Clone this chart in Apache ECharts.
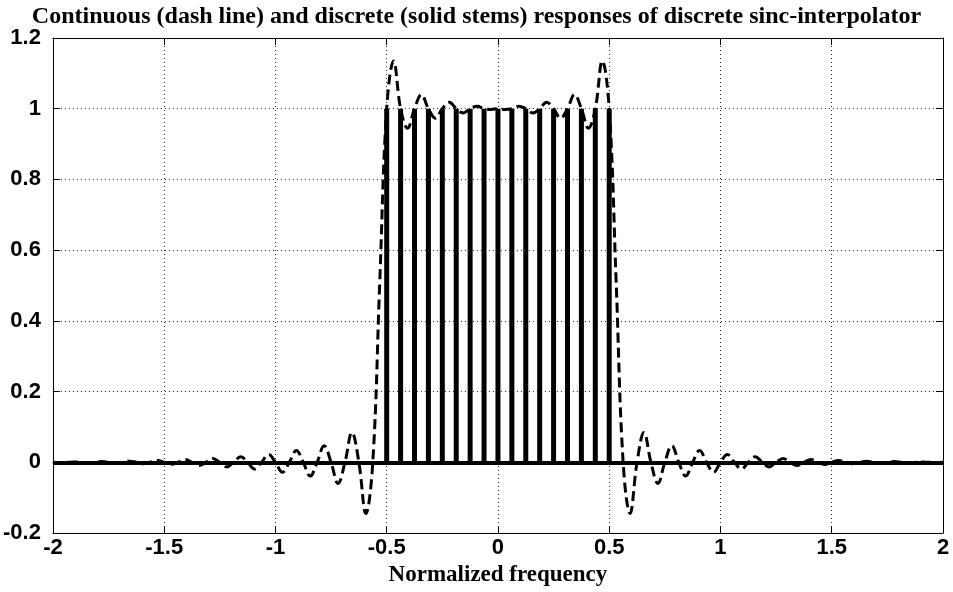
<!DOCTYPE html>
<html>
<head>
<meta charset="utf-8">
<script src="https://cdn.jsdelivr.net/npm/echarts@6/dist/echarts.min.js"></script>
<style>
html,body{margin:0;padding:0;background:#fff;}
#chart{width:953px;height:592px;}
</style>
</head>
<body>
<div id="chart"></div>
<script>
// Continuous response (dashed line), sampled every 1/32
const curveFreq = [
 -2, -1.96875, -1.9375, -1.90625, -1.875, -1.84375, -1.8125, -1.78125,
 -1.75, -1.71875, -1.6875, -1.65625, -1.625, -1.59375, -1.5625, -1.53125,
 -1.5, -1.46875, -1.4375, -1.40625, -1.375, -1.34375, -1.3125, -1.28125,
 -1.25, -1.21875, -1.1875, -1.15625, -1.125, -1.09375, -1.0625, -1.03125,
 -1, -0.96875, -0.9375, -0.90625, -0.875, -0.84375, -0.8125, -0.78125,
 -0.75, -0.71875, -0.6875, -0.65625, -0.625, -0.59375, -0.5625, -0.53125,
 -0.5, -0.46875, -0.4375, -0.40625, -0.375, -0.34375, -0.3125, -0.28125,
 -0.25, -0.21875, -0.1875, -0.15625, -0.125, -0.09375, -0.0625, -0.03125,
 0,
 0.03125, 0.0625, 0.09375, 0.125, 0.15625, 0.1875, 0.21875, 0.25,
 0.28125, 0.3125, 0.34375, 0.375, 0.40625, 0.4375, 0.46875, 0.5,
 0.53125, 0.5625, 0.59375, 0.625, 0.65625, 0.6875, 0.71875, 0.75,
 0.78125, 0.8125, 0.84375, 0.875, 0.90625, 0.9375, 0.96875, 1,
 1.03125, 1.0625, 1.09375, 1.125, 1.15625, 1.1875, 1.21875, 1.25,
 1.28125, 1.3125, 1.34375, 1.375, 1.40625, 1.4375, 1.46875, 1.5,
 1.53125, 1.5625, 1.59375, 1.625, 1.65625, 1.6875, 1.71875, 1.75,
 1.78125, 1.8125, 1.84375, 1.875, 1.90625, 1.9375, 1.96875, 2
];
const curveResp = [
 0, -0.001, 0, 0.001, 0, -0.002, 0, 0.002,
 0, -0.003, 0, 0.003, 0, -0.004, 0, 0.005,
 0, -0.006, 0, 0.008, 0, -0.009, 0, 0.011,
 0, -0.013, 0, 0.016, 0, -0.019, 0, 0.022,
 0, -0.028, 0, 0.033, 0, -0.039, 0, 0.047,
 0, -0.060, 0, 0.084, 0, -0.145, 0, 0.509,
 1, 1.135, 1, 0.945, 1, 1.040, 1, 0.973,
 1, 1.018, 1, 0.988, 1, 1.007, 1, 0.998,
 1,
 0.998, 1, 1.007, 1, 0.988, 1, 1.018, 1,
 0.973, 1, 1.040, 1, 0.945, 1, 1.135, 1,
 0.509, 0, -0.145, 0, 0.084, 0, -0.060, 0,
 0.047, 0, -0.039, 0, 0.033, 0, -0.028, 0,
 0.022, 0, -0.019, 0, 0.016, 0, -0.013, 0,
 0.011, 0, -0.009, 0, 0.008, 0, -0.006, 0,
 0.005, 0, -0.004, 0, 0.003, 0, -0.002, 0,
 0.002, 0, -0.002, 0, 0.001, 0, -0.001, 0
];
// Discrete response (solid stems)
const stemFreq = [
 -0.5, -0.4375, -0.375, -0.3125, -0.25, -0.1875, -0.125, -0.0625, 0,
 0.0625, 0.125, 0.1875, 0.25, 0.3125, 0.375, 0.4375, 0.5
];
const stemResp = [1, 1, 1, 1, 1, 1, 1, 1, 1, 1, 1, 1, 1, 1, 1, 1, 1];

const titleText = 'Continuous (dash line) and discrete (solid stems) responses of discrete sinc-interpolator';
const xName = 'Normalized frequency';

const chart = echarts.init(document.getElementById('chart'), null, {renderer: 'canvas'});

const labelFont = {color: '#000', fontFamily: 'Liberation Sans, Arial, sans-serif', fontWeight: 'bold', fontSize: 22};
const gridLine = {show: true, lineStyle: {color: '#222', width: 1, type: [1, 3]}};

chart.setOption({
  animation: false,
  backgroundColor: '#fff',
  title: {
    text: titleText,
    left: 'center',
    top: 0,
    textStyle: {fontFamily: 'Liberation Serif, Times New Roman, serif', fontWeight: 'bold', fontSize: 24, color: '#000'}
  },
  grid: {left: 52, right: 10, top: 38, bottom: 56, show: false},
  xAxis: [
    {
      type: 'value', min: -2, max: 2, interval: 0.5,
      name: xName, nameLocation: 'middle', nameGap: 31,
      nameTextStyle: {fontFamily: 'Liberation Serif, Times New Roman, serif', fontWeight: 'bold', fontSize: 23, color: '#000'},
      axisLine: {show: true, onZero: false, lineStyle: {color: '#000', width: 1}},
      axisTick: {show: true, inside: true, length: 7, lineStyle: {color: '#000'}},
      axisLabel: Object.assign({margin: 4}, labelFont),
      splitLine: gridLine
    },
    {
      type: 'value', min: -2, max: 2, interval: 0.5, position: 'top',
      axisLine: {show: true, onZero: false, lineStyle: {color: '#000', width: 1}},
      axisTick: {show: true, inside: true, length: 7, lineStyle: {color: '#000'}},
      axisLabel: {show: false},
      splitLine: {show: false}
    }
  ],
  yAxis: [
    {
      type: 'value', min: -0.2, max: 1.2, interval: 0.2,
      axisLine: {show: true, onZero: false, lineStyle: {color: '#000', width: 1}},
      axisTick: {show: true, inside: true, length: 7, lineStyle: {color: '#000'}},
      axisLabel: Object.assign({margin: 12, formatter: v => String(Math.round(v * 10) / 10)}, labelFont),
      splitLine: gridLine
    },
    {
      type: 'value', min: -0.2, max: 1.2, interval: 0.2, position: 'right',
      axisLine: {show: true, onZero: false, lineStyle: {color: '#000', width: 1}},
      axisTick: {show: true, inside: true, length: 7, lineStyle: {color: '#000'}},
      axisLabel: {show: false},
      splitLine: {show: false}
    }
  ],
  series: [
    {
      type: 'custom',
      xAxisIndex: 0, yAxisIndex: 0,
      data: stemFreq.map((f, i) => [f, stemResp[i]]),
      renderItem: function (params, api) {
        const p0 = api.coord([api.value(0), 0]);
        const p1 = api.coord([api.value(0), api.value(1)]);
        return {
          type: 'line',
          shape: {x1: p0[0], y1: p0[1], x2: p1[0], y2: p1[1]},
          style: {stroke: '#000', lineWidth: 5}
        };
      },
      markLine: {
        silent: true, symbol: 'none', label: {show: false},
        lineStyle: {color: '#000', width: 4, type: 'solid'},
        data: [{yAxis: 0}]
      },
      z: 2
    },
    {
      type: 'line',
      xAxisIndex: 0, yAxisIndex: 0,
      data: curveFreq.map((f, i) => [f, curveResp[i]]),
      smooth: 0.4,
      showSymbol: false,
      lineStyle: {color: '#000', width: 3, type: [10, 5]},
      z: 3
    }
  ]
});
</script>
</body>
</html>
